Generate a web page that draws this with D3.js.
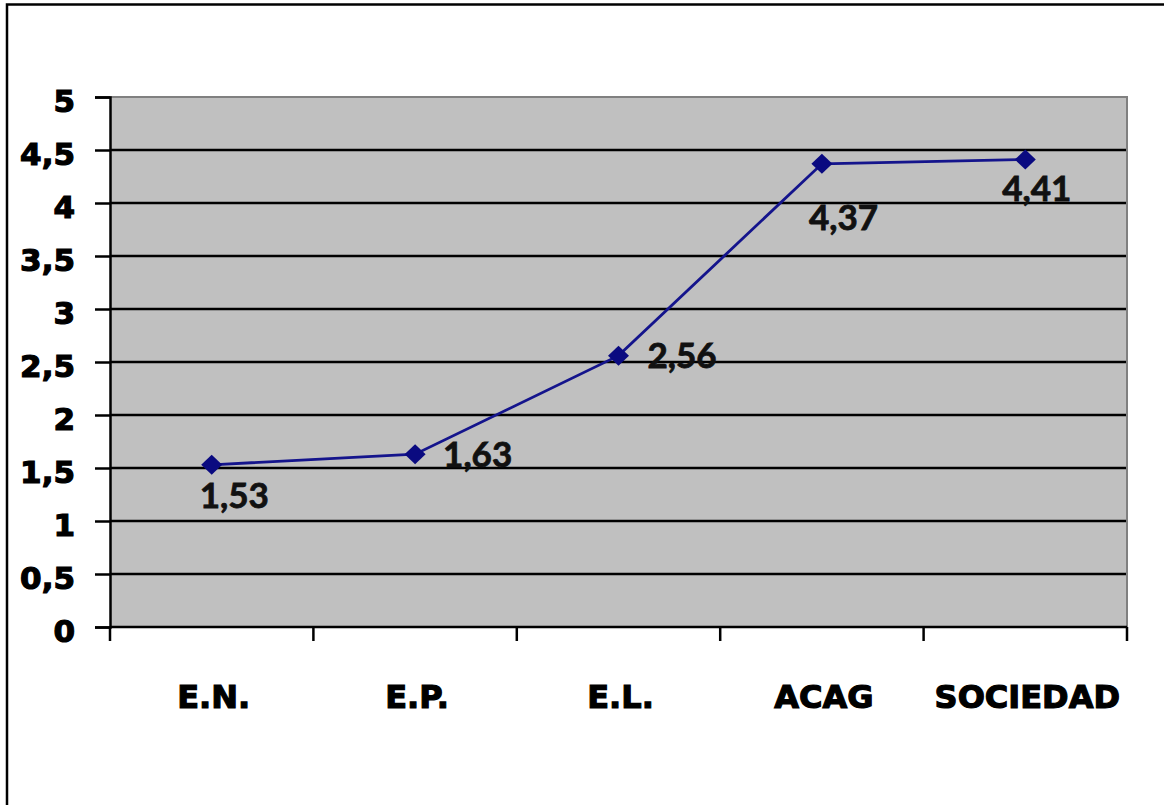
<!DOCTYPE html>
<html>
<head>
<meta charset="utf-8">
<script src="https://cdn.jsdelivr.net/npm/d3@7"></script>
<style>
  html, body { margin: 0; padding: 0; background: #ffffff; }
  svg { display: block; }
</style>
</head>
<body>
<svg id="chart" width="1164" height="805"></svg>
<script>
// Series data
const categories = ["E.N.", "E.P.", "E.L.", "ACAG", "SOCIEDAD"];
const values = [1.53, 1.63, 2.56, 4.37, 4.41];
const valueLabels = ["1,53", "1,63", "2,56", "4,37", "4,41"];
const yTicks = [0, 0.5, 1, 1.5, 2, 2.5, 3, 3.5, 4, 4.5, 5];
const yTickLabels = ["0", "0,5", "1", "1,5", "2", "2,5", "3", "3,5", "4", "4,5", "5"];

const svg = d3.select("#chart");
const plot = { left: 110, right: 1127, top: 97, bottom: 627 };

const x = d3.scaleBand().domain(categories).range([plot.left, plot.right]).padding(0);
const y = d3.scaleLinear().domain([0, 5]).range([plot.bottom, plot.top]);

// Outer frame
svg.append("rect")
  .attr("x", 7).attr("y", 4.5)
  .attr("width", 1300).attr("height", 1000)
  .attr("fill", "none").attr("stroke", "#000").attr("stroke-width", 2.5);

// Plot area background
svg.append("rect")
  .attr("x", plot.left).attr("y", plot.top)
  .attr("width", plot.right - plot.left).attr("height", plot.bottom - plot.top)
  .attr("fill", "#c0c0c0");

// Horizontal gridlines
svg.append("g").selectAll("line")
  .data(yTicks.filter(d => d > 0 && d < 5))
  .join("line")
  .attr("x1", plot.left).attr("x2", plot.right)
  .attr("y1", d => y(d)).attr("y2", d => y(d))
  .attr("stroke", "#000").attr("stroke-width", 2.5);

// Plot area border (top and right)
svg.append("path")
  .attr("d", `M${plot.left},${plot.top}H${plot.right}V${plot.bottom}`)
  .attr("fill", "none").attr("stroke", "#808080").attr("stroke-width", 2);

// Y axis
const yAxis = d3.axisLeft(y)
  .tickValues(yTicks)
  .tickSize(15)
  .tickPadding(20)
  .tickFormat((d, i) => yTickLabels[i]);
const gy = svg.append("g").attr("transform", `translate(${plot.left},0)`).call(yAxis);
gy.select(".domain").attr("stroke", "#000").attr("stroke-width", 2.5);
gy.selectAll(".tick line").attr("stroke", "#000").attr("stroke-width", 2.5);
gy.selectAll(".tick text")
  .attr("dy", "0.48em")
  .attr("fill", "#000")
  .attr("stroke", "#000")
  .attr("stroke-width", 1.2)
  .style("font-family", "'DejaVu Sans', sans-serif")
  .style("font-weight", "bold")
  .style("font-size", "31px");

// X axis line with ticks at category boundaries
const boundaries = categories.map(c => x(c)).concat([x(categories[categories.length - 1]) + x.bandwidth()]);
svg.append("line")
  .attr("x1", plot.left).attr("x2", plot.right)
  .attr("y1", plot.bottom).attr("y2", plot.bottom)
  .attr("stroke", "#000").attr("stroke-width", 2.5);
svg.append("g").selectAll("line")
  .data(boundaries)
  .join("line")
  .attr("x1", d => d).attr("x2", d => d)
  .attr("y1", plot.bottom).attr("y2", plot.bottom + 14)
  .attr("stroke", "#000").attr("stroke-width", 2.5);

// Category labels
svg.append("g").selectAll("text")
  .data(categories)
  .join("text")
  .attr("x", d => x(d) + x.bandwidth() / 2 + 2)
  .attr("y", 708)
  .attr("text-anchor", "middle")
  .attr("fill", "#000")
  .attr("stroke", "#000")
  .attr("stroke-width", 1.2)
  .style("font-family", "'DejaVu Sans', sans-serif")
  .style("font-weight", "bold")
  .style("font-size", "32px")
  .text(d => d);

// Series line
const pts = categories.map((c, i) => [x(c) + x.bandwidth() / 2, y(values[i])]);
svg.append("path")
  .attr("d", d3.line()(pts))
  .attr("fill", "none")
  .attr("stroke", "#14148c")
  .attr("stroke-width", 2.8);

// Diamond markers
svg.append("g").selectAll("path")
  .data(pts)
  .join("path")
  .attr("transform", d => `translate(${d[0]},${d[1]})`)
  .attr("d", "M0,-10L10.5,0L0,10L-10.5,0Z")
  .attr("fill", "#0a0a80");

// Value labels, each nudged away from its marker
const labelOffsets = [[-12, 43], [28, 13], [29, 12], [-13, 66], [-23, 41]];
svg.append("g").selectAll("text")
  .data(pts)
  .join("text")
  .attr("x", (d, i) => d[0] + labelOffsets[i][0])
  .attr("y", (d, i) => d[1] + labelOffsets[i][1])
  .attr("fill", "#111")
  .attr("stroke", "#111")
  .attr("stroke-width", 0.8)
  .style("font-family", "Lato, 'Open Sans', sans-serif")
  .style("font-weight", "bold")
  .style("font-size", "35px")
  .text((d, i) => valueLabels[i]);
</script>
</body>
</html>
